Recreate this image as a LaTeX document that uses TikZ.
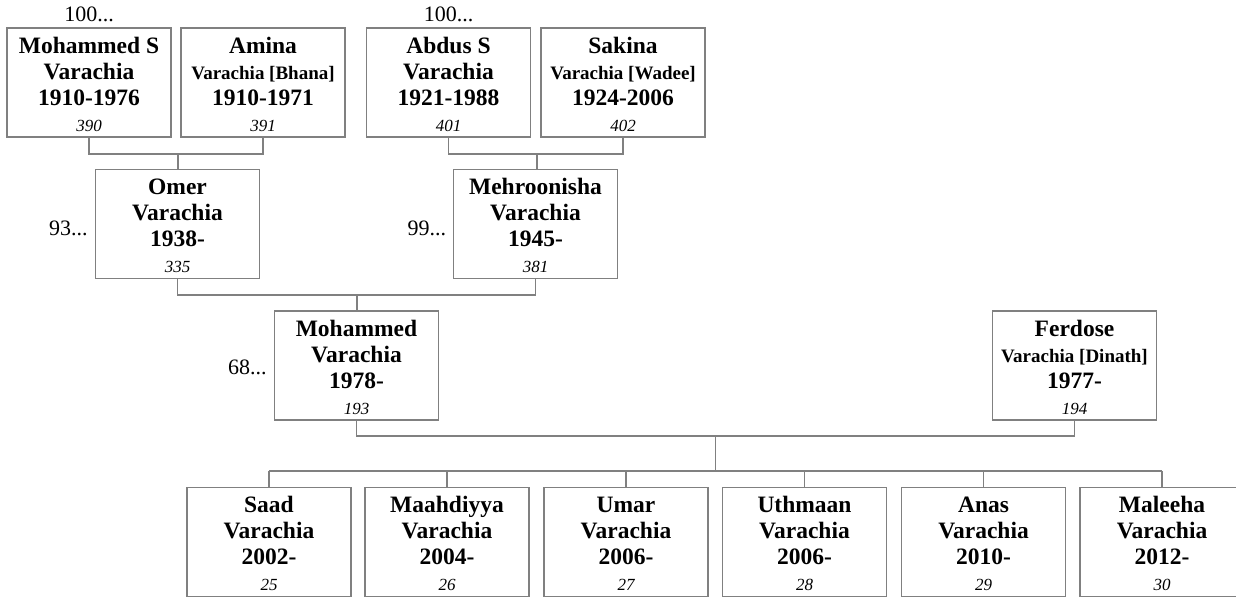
\documentclass[tikz,border=0pt]{standalone}
\usepackage{fontspec}
\setmainfont{Liberation Serif}
\usetikzlibrary{positioning}

\definecolor{boxgray}{RGB}{128,128,128}

\tikzset{
  person/.style={draw=boxgray, line width=1.2pt, minimum width=164pt, minimum height=109pt,
    inner sep=0pt, align=center, text height=97pt, text depth=0pt,
    font=\fontsize{23.5}{26}\selectfont\bfseries},
  link/.style={draw=boxgray, line width=1.2pt},
  more/.style={inner sep=0pt, font=\fontsize{22}{24}\selectfont},
}

\newcommand{\maiden}[1]{{\fontsize{19}{26}\selectfont #1}}
\newcommand{\pid}[1]{{\mdseries\itshape\fontsize{17}{26}\selectfont #1}}

\begin{document}
\begin{tikzpicture}[x=1pt, y=-1pt]
      \useasboundingbox (0,0) rectangle (1236,598);

      % grandparents
      \node[person] (ms)     at (89,82.5)    {Mohammed S\\ Varachia\\ 1910-1976\\ \pid{390}};
      \node[person] (amina)  at (263,82.5)   {Amina\\ \maiden{Varachia [Bhana]}\\ 1910-1971\\ \pid{391}};
      \node[person] (abdus)  at (448.5,82.5) {Abdus S\\ Varachia\\ 1921-1988\\ \pid{401}};
      \node[person] (sakina) at (623,82.5)   {Sakina\\ \maiden{Varachia [Wadee]}\\ 1924-2006\\ \pid{402}};

      \node[more, anchor=base] (ms-more)    at ([yshift=6pt]ms.north)    {100...};
      \node[more, anchor=base] (abdus-more) at ([yshift=6pt]abdus.north) {100...};

      % parents
      \node[person] (omer) at (177.5,224) {Omer\\ Varachia\\ 1938-\\ \pid{335}};
      \node[person] (mehr) at (535.5,224) {Mehroonisha\\ Varachia\\ 1945-\\ \pid{381}};

      \node[more, left=7pt of omer, yshift=-4pt] (omer-more) {93...};
      \node[more, left=6.5pt of mehr, yshift=-4pt] (mehr-more) {99...};

      % couple
      \node[person] (moh)     at (356.5,365.5)  {Mohammed\\ Varachia\\ 1978-\\ \pid{193}};
      \node[person] (ferdose) at (1074.5,365.5) {Ferdose\\ \maiden{Varachia [Dinath]}\\ 1977-\\ \pid{194}};

      \node[more, left=7pt of moh, yshift=-2pt] (moh-more) {68...};

      % children
      \node[person] (saad)      at (269,542)    {Saad\\ Varachia\\ 2002-\\ \pid{25}};
      \node[person] (maahdiyya) at (447,542)    {Maahdiyya\\ Varachia\\ 2004-\\ \pid{26}};
      \node[person] (umar)      at (626,542)    {Umar\\ Varachia\\ 2006-\\ \pid{27}};
      \node[person] (uthmaan)   at (804.5,542)  {Uthmaan\\ Varachia\\ 2006-\\ \pid{28}};
      \node[person] (anas)      at (983.5,542)  {Anas\\ Varachia\\ 2010-\\ \pid{29}};
      \node[person] (maleeha)   at (1162,542)   {Maleeha\\ Varachia\\ 2012-\\ \pid{30}};

      % junctions
      \coordinate (j1) at (178,154);
      \coordinate (j2) at (537,154);
      \coordinate (j3) at (357,295);
      \coordinate (j4) at (715.5,436);
      \coordinate (sib) at (715.5,471);

      \draw[link] (ms.south) |- (j1) -| (amina.south);
      \draw[link] (j1) -- (j1 |- omer.north);

      \draw[link] (abdus.south) |- (j2) -| (sakina.south);
      \draw[link] (j2) -- (j2 |- mehr.north);

      \draw[link] (omer.south) |- (j3) -| (mehr.south);
      \draw[link] (j3) -- (j3 |- moh.north);

      \draw[link] (moh.south) |- (j4) -| (ferdose.south);
      \draw[link] (j4) -- (sib);

      \draw[link] (saad.north |- sib) -- (maleeha.north |- sib);
      \foreach \kid in {saad,maahdiyya,umar,uthmaan,anas,maleeha}
        \draw[link] (\kid.north) -- (\kid.north |- sib);
\end{tikzpicture}
\end{document}
